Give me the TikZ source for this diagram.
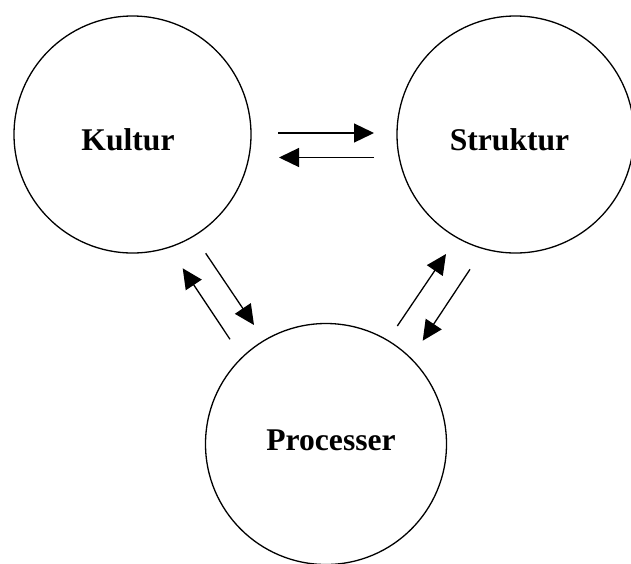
\documentclass[tikz,border=0pt]{standalone}
\usepackage{fontspec}
\setmainfont{Liberation Serif}
\usetikzlibrary{arrows.meta}
\begin{document}
\begin{tikzpicture}[x=1pt,y=-1pt,
  ring/.style={circle, draw, line width=1.3pt, inner sep=0pt, minimum size=#1},
  word/.style={font=\fontsize{31.6}{38}\selectfont\bfseries, inner sep=0pt},
  flow/.style={line width=1.3pt, -{Triangle[length=20pt,width=19pt]}}]
  \useasboundingbox (0,0) rectangle (631,563);

  % the three circles
  \node[ring=237pt] (kultur)    at (132.5,134.5) {};
  \node[ring=237pt] (struktur)  at (515.5,134.5) {};
  \node[ring=241pt] (processer) at (326,444) {};

  % their labels
  \node[word] (kulturL)    at (128,139.5) {Kultur};
  \node[word] (strukturL)  at (509.5,140) {Struktur};
  \node[word] (processerL) at (331,440) {Processer};

  % arrow end points between the circles
  \coordinate (ks1) at (278,133);   \coordinate (ks2) at (374,133);
  \coordinate (sk1) at (374,157.5); \coordinate (sk2) at (279,157.5);
  \coordinate (kp1) at (205.7,253.3); \coordinate (kp2) at (254,325);
  \coordinate (pk1) at (230,339.3);   \coordinate (pk2) at (182.7,268.3);
  \coordinate (ps1) at (397.3,326);   \coordinate (ps2) at (446,254);
  \coordinate (sp1) at (470,269.3);   \coordinate (sp2) at (422.7,340.7);

  % paired arrows
  \draw[flow] (ks1) -- (ks2);
  \draw[flow] (sk1) -- (sk2);
  \draw[flow] (kp1) -- (kp2);
  \draw[flow] (pk1) -- (pk2);
  \draw[flow] (ps1) -- (ps2);
  \draw[flow] (sp1) -- (sp2);
\end{tikzpicture}
\end{document}
